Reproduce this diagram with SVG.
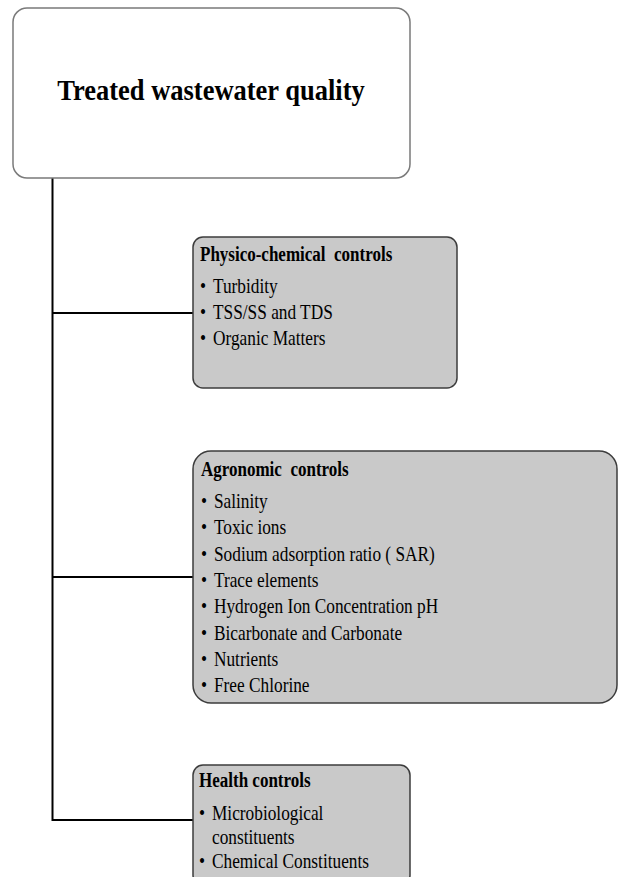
<svg xmlns="http://www.w3.org/2000/svg" width="619" height="877" viewBox="0 0 619 877">
<style>
.top{fill:#ffffff;stroke:#7a7a7a;stroke-width:1.5}
.box{fill:#c9c9c9;stroke:#3c3c3c;stroke-width:1.5}
.conn{stroke:#000;stroke-width:2;fill:none}
text{font-family:"Liberation Serif","Times New Roman",serif;fill:#000}
.title{font-size:26.5px;font-weight:bold}
.hd{font-size:17px;font-weight:bold}
.it{font-size:17.3px}
</style>
<rect width="619" height="877" fill="#fff"/>
<g id="connectors">
<path class="conn" d="M52.5,178 V821 M52,313 H193 M52,577 H193 M52,820 H193"/>
</g>
<g id="root">
<rect class="top" x="13" y="8" width="397" height="170" rx="14"/>
<text class="title" text-anchor="middle" transform="translate(211,100) scale(1,1.13)">Treated wastewater quality</text>
</g>
<g id="physico">
<rect class="box" x="193" y="237" width="264" height="151" rx="10"/>
<text class="hd" xml:space="preserve" transform="translate(0,261) scale(1,1.17)" x="200">Physico-chemical  controls</text>
<text class="it" transform="translate(0,293) scale(1,1.15)"><tspan x="200">•</tspan><tspan x="213">Turbidity</tspan></text>
<text class="it" transform="translate(0,319) scale(1,1.15)"><tspan x="200">•</tspan><tspan x="213">TSS/SS and TDS</tspan></text>
<text class="it" transform="translate(0,345) scale(1,1.15)"><tspan x="200">•</tspan><tspan x="213">Organic Matters</tspan></text>
</g>
<g id="agronomic">
<rect class="box" x="193" y="451" width="424" height="252" rx="18"/>
<text class="hd" xml:space="preserve" transform="translate(0,476) scale(1,1.17)" x="201">Agronomic  controls</text>
<text class="it" transform="translate(0,508) scale(1,1.15)"><tspan x="201">•</tspan><tspan x="214">Salinity</tspan></text>
<text class="it" transform="translate(0,534) scale(1,1.15)"><tspan x="201">•</tspan><tspan x="214">Toxic ions</tspan></text>
<text class="it" transform="translate(0,561) scale(1,1.15)"><tspan x="201">•</tspan><tspan x="214">Sodium adsorption ratio ( SAR)</tspan></text>
<text class="it" transform="translate(0,587) scale(1,1.15)"><tspan x="201">•</tspan><tspan x="214">Trace elements</tspan></text>
<text class="it" transform="translate(0,613) scale(1,1.15)"><tspan x="201">•</tspan><tspan x="214">Hydrogen Ion Concentration pH</tspan></text>
<text class="it" transform="translate(0,640) scale(1,1.15)"><tspan x="201">•</tspan><tspan x="214">Bicarbonate and Carbonate</tspan></text>
<text class="it" transform="translate(0,666) scale(1,1.15)"><tspan x="201">•</tspan><tspan x="214">Nutrients</tspan></text>
<text class="it" transform="translate(0,692) scale(1,1.15)"><tspan x="201">•</tspan><tspan x="214">Free Chlorine</tspan></text>
</g>
<g id="health">
<rect class="box" x="193" y="765" width="217" height="120" rx="10"/>
<text class="hd" transform="translate(0,787) scale(1,1.17)" x="199">Health controls</text>
<text class="it" transform="translate(0,820) scale(1,1.15)"><tspan x="199">•</tspan><tspan x="212">Microbiological</tspan></text>
<text class="it" transform="translate(0,844) scale(1,1.15)" x="212">constituents</text>
<text class="it" transform="translate(0,868) scale(1,1.15)"><tspan x="199">•</tspan><tspan x="212">Chemical Constituents</tspan></text>
</g>
</svg>
